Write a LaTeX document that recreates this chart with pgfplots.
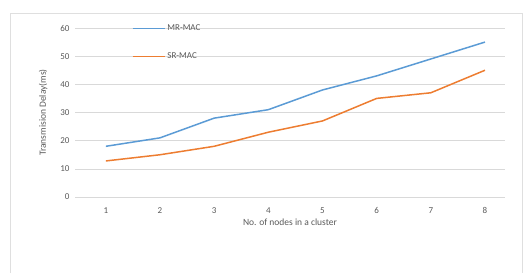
\documentclass[border=0pt]{standalone}
\usepackage{pgfplots}
\pgfplotsset{compat=1.18}
\usepackage{fontspec}
\setmainfont{Carlito}
\definecolor{mrblue}{HTML}{5B9BD5}
\definecolor{srorange}{HTML}{ED7D31}
\definecolor{txt}{HTML}{595959}
\definecolor{gridc}{HTML}{D9D9D9}
\pgfplotsset{legend image code/.code={\draw[#1] (0pt,0pt) -- (32pt,0pt);}}
\begin{document}
\begin{tikzpicture}
\path[use as bounding box] (0pt,0pt) rectangle (526pt,273pt);
\draw[gray!25, line width=0.6pt] (10pt,0pt) -- (10pt,260pt) -- (522pt,260pt) -- (522pt,0pt);
\begin{axis}[
  at={(75pt,76pt)}, anchor=south west,
  scale only axis, width=430pt, height=169pt,
  xmin=0.43, xmax=8.37, ymin=0, ymax=60,
  axis line style={draw=none},
  xtick={1,...,8}, ytick={0,10,...,60},
  major tick length=0pt,
  ymajorgrids, grid style={draw=gridc, line width=0.6pt},
  tick label style={font=\fontsize{9}{10}\selectfont, text=txt},
  /pgf/number format/assume math mode=true,
  yticklabel style={xshift=-2pt},
  xticklabel style={yshift=-7pt},
  xlabel={No. of nodes in a cluster},
  ylabel={Transmision Delay(ms)},
  label style={font=\fontsize{9.5}{11}\selectfont, text=txt},
  xlabel style={yshift=2pt},
  ylabel style={yshift=6pt},
  legend style={draw=none, fill=none, at={(0.125,1.095)}, anchor=north west,
    font=\fontsize{9}{10}\selectfont\color{txt},
    nodes={inner ysep=10.5pt}},
  legend cell align=left,
]
\addplot[color=mrblue, line width=1.5pt] coordinates {(1,18) (2,21) (3,28) (4,31) (5,38) (6,43) (7,49) (8,55)};
\addlegendentry{MR-MAC}
\addplot[color=srorange, line width=1.5pt] coordinates {(1,12.8) (2,15) (3,18) (4,23) (5,27) (6,35) (7,37) (8,45)};
\addlegendentry{SR-MAC}
\end{axis}
\end{tikzpicture}
\end{document}
